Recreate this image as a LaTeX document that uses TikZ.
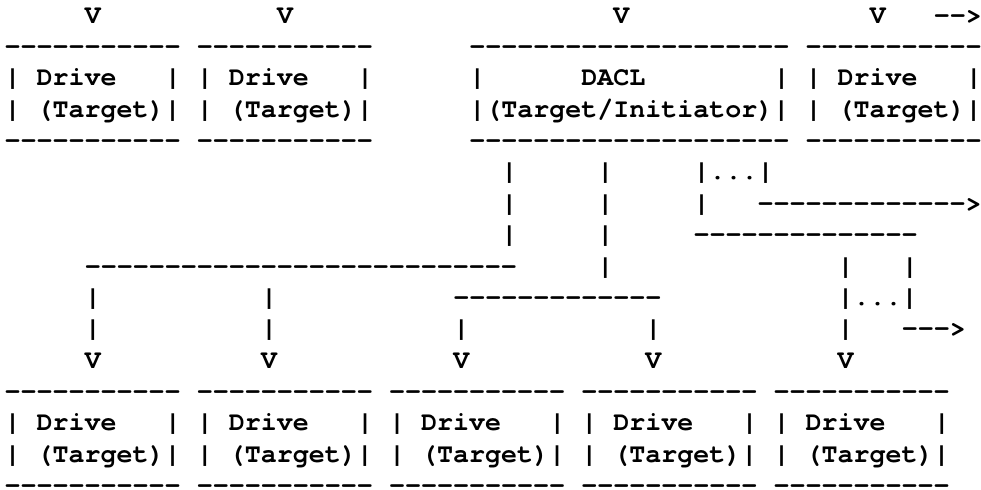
\documentclass[tikz,border=0pt]{standalone}
\usepackage{fontspec}
\setmonofont{texgyrecursor-bold.otf}
\tikzset{
  asc/.style={anchor=base west, inner sep=0pt, outer sep=0pt,
    font=\ttfamily\fontsize{20}{24}\selectfont}
}
% #1 row (1..16), #2 column, #3 text
\newcommand\ch[3]{\node[asc] (t#1-#2) at ({4.69+#2*16.02},{16.64+(#1-1)*31.36+6.5}) {#3};}
\newcommand\drivetop[2]{\ch{#1}{#2}{-----------}}
\newcommand\drivemid[2]{\ch{#1}{#2}{|}\ch{#1}{\the\numexpr#2+2\relax}{Drive}\ch{#1}{\the\numexpr#2+10\relax}{|}}
\newcommand\drivebot[2]{\ch{#1}{#2}{|}\ch{#1}{\the\numexpr#2+2\relax}{(Target)|}}
\begin{document}
\begin{tikzpicture}[x=0.75pt,y=-0.75pt]
\useasboundingbox (0,0) rectangle (981,489);
% row 1
\ch{1}{5}{V}\ch{1}{17}{V}\ch{1}{38}{V}\ch{1}{54}{V}\ch{1}{58}{-->}
% row 2
\drivetop{2}{0}\drivetop{2}{12}\ch{2}{29}{--------------------}\drivetop{2}{50}
% row 3
\drivemid{3}{0}\drivemid{3}{12}
\ch{3}{29}{|}\ch{3}{36}{DACL}\ch{3}{48}{|}
\drivemid{3}{50}
% row 4
\drivebot{4}{0}\drivebot{4}{12}
\ch{4}{29}{|(Target/Initiator)|}
\drivebot{4}{50}
% row 5
\drivetop{5}{0}\drivetop{5}{12}\ch{5}{29}{--------------------}\drivetop{5}{50}
% row 6
\ch{6}{31}{|}\ch{6}{37}{|}\ch{6}{43}{|...|}
% row 7
\ch{7}{31}{|}\ch{7}{37}{|}\ch{7}{43}{|}\ch{7}{47}{------------->}
% row 8
\ch{8}{31}{|}\ch{8}{37}{|}\ch{8}{43}{--------------}
% row 9
\ch{9}{5}{---------------------------}\ch{9}{37}{|}\ch{9}{52}{|}\ch{9}{56}{|}
% row 10
\ch{10}{5}{|}\ch{10}{16}{|}\ch{10}{28}{-------------}\ch{10}{52}{|...|}
% row 11
\ch{11}{5}{|}\ch{11}{16}{|}\ch{11}{28}{|}\ch{11}{40}{|}\ch{11}{52}{|}\ch{11}{56}{--->}
% row 12
\ch{12}{5}{V}\ch{12}{16}{V}\ch{12}{28}{V}\ch{12}{40}{V}\ch{12}{52}{V}
% rows 13-16: bottom drives
\drivetop{13}{0}\drivetop{13}{12}\drivetop{13}{24}\drivetop{13}{36}\drivetop{13}{48}
\drivemid{14}{0}\drivemid{14}{12}\drivemid{14}{24}\drivemid{14}{36}\drivemid{14}{48}
\drivebot{15}{0}\drivebot{15}{12}\drivebot{15}{24}\drivebot{15}{36}\drivebot{15}{48}
\drivetop{16}{0}\drivetop{16}{12}\drivetop{16}{24}\drivetop{16}{36}\drivetop{16}{48}
\end{tikzpicture}
\end{document}
